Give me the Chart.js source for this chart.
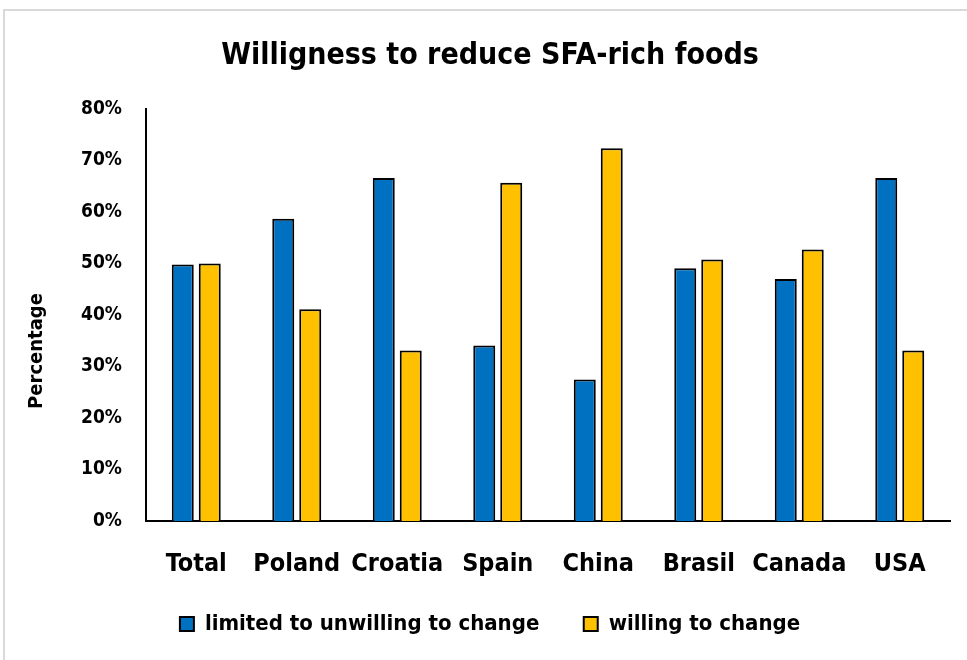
<!DOCTYPE html>
<html>
<head>
<meta charset="utf-8">
<script src="https://cdn.jsdelivr.net/npm/chart.js@4/dist/chart.umd.min.js"></script>
<style>
  html, body { margin: 0; padding: 0; background: #fff; }
  #wrap { position: absolute; left: 3px; top: 9px; width: 964px; height: 651px; border-left: 2px solid #d9d9d9; border-top: 2px solid #d9d9d9; box-sizing: border-box; }
  #c { position: absolute; left: 0; top: 0; }
</style>
</head>
<body>
<div id="wrap"></div>
<canvas id="c" width="967" height="660"></canvas>
<script>
const categories = ["Total", "Poland", "Croatia", "Spain", "China", "Brasil", "Canada", "USA"];
const limitedValues = [49.8, 58.7, 66.6, 34.1, 27.5, 49.1, 47.0, 66.6];
const willingValues = [50.0, 41.1, 33.1, 65.7, 72.4, 50.8, 52.7, 33.1];
const seriesNames = ["limited to unwilling to change", "willing to change"];
const yTicks = [0, 10, 20, 30, 40, 50, 60, 70, 80];
const yAxisTitle = "Percentage";

const FONT = "'Liberation Sans Narrow', 'DejaVu Sans Condensed', 'Liberation Sans', sans-serif";

const yTitlePlugin = {
  id: 'yTitle',
  afterDraw(chart) {
    const ctx = chart.ctx;
    ctx.save();
    ctx.translate(37, 351);
    ctx.rotate(-Math.PI / 2);
    ctx.font = "bold 20px " + FONT;
    ctx.fillStyle = '#000';
    ctx.textAlign = 'center';
    ctx.textBaseline = 'middle';
    ctx.fillText(yAxisTitle, 0, 0);
    ctx.restore();
  }
};

new Chart(document.getElementById('c'), {
  type: 'bar',
  data: {
    labels: categories,
    datasets: [
      { label: seriesNames[0], data: limitedValues, backgroundColor: '#0070C0', borderColor: '#000', borderWidth: 2, categoryPercentage: 0.537, barPercentage: 0.815 },
      { label: seriesNames[1], data: willingValues, backgroundColor: '#FFC000', borderColor: '#000', borderWidth: 2, categoryPercentage: 0.537, barPercentage: 0.815 }
    ]
  },
  plugins: [yTitlePlugin],
  options: {
    responsive: false,
    animation: false,
    devicePixelRatio: 1,
    layout: { padding: { left: 30, right: 17, top: 38, bottom: 15 } },
    plugins: {
      title: {
        display: true,
        text: 'Willigness to reduce SFA-rich foods',
        color: '#000',
        font: { family: FONT, size: 30, weight: 'bold' },
        padding: { top: 0, bottom: 35 }
      },
      legend: {
        position: 'bottom',
        labels: {
          color: '#000',
          font: { family: FONT, size: 22, weight: 'bold' },
          boxWidth: 14,
          boxHeight: 14,
          padding: 10,
          generateLabels: (chart) => {
            const items = Chart.defaults.plugins.legend.labels.generateLabels(chart);
            items.forEach((it, i) => { if (i < items.length - 1) it.text = it.text + '     '; });
            return items;
          }
        }
      },
      tooltip: { enabled: false }
    },
    scales: {
      x: {
        grid: { display: false, drawTicks: false },
        border: { display: true, color: '#000', width: 2 },
        ticks: { color: '#000', font: { family: FONT, size: 25, weight: 'bold' }, padding: 28, maxRotation: 0, autoSkip: false },
        afterFit: (s) => { s.height = 82; }
      },
      y: {
        min: 0, max: 80,
        afterBuildTicks: (s) => { s.ticks = yTicks.map(v => ({ value: v })); },
        grid: { display: false, drawOnChartArea: false, drawTicks: true, tickLength: 6, tickColor: '#000', tickWidth: 2 },
        border: { display: true, color: '#000', width: 2 },
        ticks: { color: '#000', font: { family: FONT, size: 19, weight: 'bold' }, padding: 18, callback: (v) => v + '%' },
        afterFit: (s) => { s.width = 116; }
      }
    }
  }
});
</script>
</body>
</html>
